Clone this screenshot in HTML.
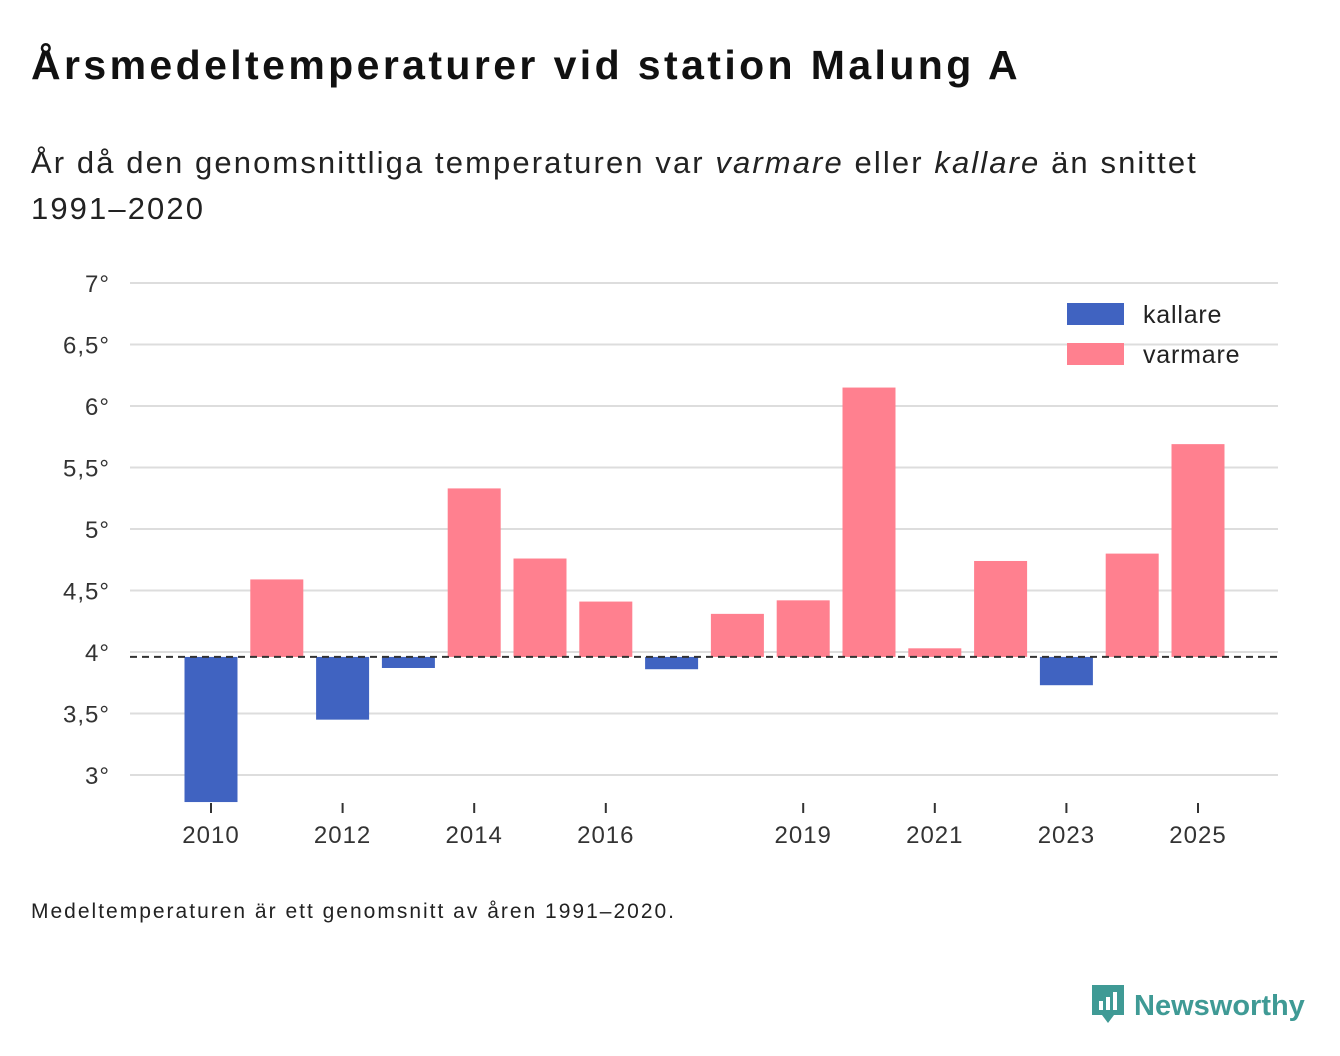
<!DOCTYPE html>
<html><head><meta charset="utf-8"><style>
body{margin:0;width:1340px;height:1056px;background:#fff;font-family:"Liberation Sans",sans-serif;color:#111;position:relative;overflow:hidden}
.t{position:absolute;left:31px;top:42px;font-size:41px;font-weight:bold;margin:0;letter-spacing:3.4px}
.s{position:absolute;left:31px;top:140px;font-size:31px;line-height:46px;width:1200px;color:#222;letter-spacing:2.1px}
.f{position:absolute;left:31px;top:900px;font-size:21px;color:#222;letter-spacing:2px}
.logo{position:absolute;left:1090px;top:983px;font-size:29px;font-weight:bold;color:#3f9a95}
</style></head><body>
<h1 class="t">Årsmedeltemperaturer vid station Malung A</h1>
<div class="s">År då den genomsnittliga temperaturen var <i>varmare</i> eller <i>kallare</i> än snittet 1991–2020</div>
<svg id="c" width="1340" height="1056" style="position:absolute;left:0;top:0"></svg>
<div class="f">Medeltemperaturen är ett genomsnitt av åren 1991–2020.</div>
<div class="logo"><svg width="36" height="42" style="vertical-align:-10px;margin-right:8px"><path d="M2 2h32v30h-10l-6 8-6-8H2z" fill="#3f9a95"/><rect x="9" y="18" width="4" height="9" fill="#fff"/><rect x="16" y="14" width="4" height="13" fill="#fff"/><rect x="23" y="9" width="4" height="18" fill="#fff"/></svg>Newsworthy</div>
<script>
const years=[2010,2011,2012,2013,2014,2015,2016,2017,2018,2019,2020,2021,2022,2023,2024,2025];
const temps=[2.78,4.59,3.45,3.87,5.33,4.76,4.41,3.86,4.31,4.42,6.15,4.03,4.74,3.73,4.80,5.69];
const baseline=3.96;
const yTicks=[3,3.5,4,4.5,5,5.5,6,6.5,7];
const xTickYears=[2010,2012,2014,2016,2019,2021,2023,2025];
const svg=document.getElementById('c');const NS='http://www.w3.org/2000/svg';
const y=v=>283+(7-v)*123;
const x=yr=>211+(yr-2010)*65.8;
function mk(t,a){const e=document.createElementNS(NS,t);for(const k in a)e.setAttribute(k,a[k]);svg.appendChild(e);return e;}
yTicks.forEach(v=>{
 const l=mk('line',{x1:130,x2:1278,y1:y(v),y2:y(v),stroke:'#ddd','stroke-width':2});
 
 
 const t=mk('text',{x:110,y:y(v)+9,'text-anchor':'end','font-size':24,fill:'#333','letter-spacing':1});
 t.textContent=String(v).replace('.',',')+'°';
 
 
});
years.forEach((yr,i)=>{
 const v=temps[i];const top=y(Math.max(v,baseline)),bot=y(Math.min(v,baseline));
 const r=mk('rect',{x:x(yr)-26.5,y:top,width:53,height:bot-top,fill:v<baseline?'#4063c1':'#ff808f'});
 
 
});
const b=mk('line',{x1:130,x2:1278,y1:y(baseline),y2:y(baseline),stroke:'#333','stroke-width':2,'stroke-dasharray':'7,5'});


xTickYears.forEach(yr=>{
 const l=mk('line',{x1:x(yr),x2:x(yr),y1:803,y2:813,stroke:'#333','stroke-width':2});
 
 
 const t=mk('text',{x:x(yr),y:843,'text-anchor':'middle','font-size':24,fill:'#333','letter-spacing':1});
 t.textContent=yr;
 
 
});
[['kallare','#4063c1',303],['varmare','#ff808f',343]].forEach(([n,c,yy])=>{
 const r=mk('rect',{x:1067,y:yy,width:57,height:22,fill:c});
 
 
 const t=mk('text',{x:1143,y:yy+20,'font-size':25,fill:'#222','letter-spacing':0.8});t.textContent=n;
 
 
});
</script>
</body></html>
